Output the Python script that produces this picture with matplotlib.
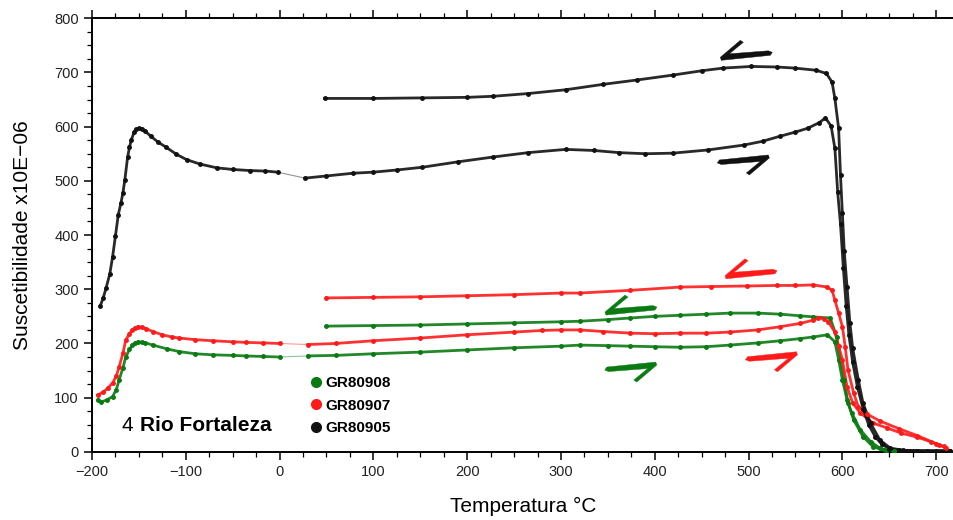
import numpy as np
import matplotlib
matplotlib.use('Agg')
import matplotlib.pyplot as plt
import matplotlib.transforms as mtransforms
from matplotlib.patches import Polygon
from matplotlib.lines import Line2D
from matplotlib.ticker import MultipleLocator

plt.rcParams['font.family'] = ['Liberation Sans', 'DejaVu Sans']

### dados (temperatura em C, suscetibilidade x10E-06)

# GR80905 (preto)
bk_low_t = [-191, -188, -185, -181, -178, -175, -172, -169, -167, -165, -162, -160, -158, -155,
            -153, -150, -147, -143, -137, -130, -121, -110, -99, -85, -67, -50, -32, -15, -2]
bk_low_v = [270, 284, 302, 328, 360, 398, 437, 460, 478, 501, 544, 562, 576, 590,
            595, 597, 596, 591, 582, 572, 562, 549, 539, 531, 524, 521, 519, 518, 516]
bk_heat_t = [27, 50, 78, 100, 125, 152, 190, 228, 265, 305, 335, 362, 390, 419, 457, 495, 515, 533,
             550, 563, 575, 582, 588, 592, 595, 598, 601, 604, 607, 611, 616, 622, 628, 635, 642,
             650, 660, 680, 700, 715]
bk_heat_v = [505, 509, 514, 516, 520, 525, 535, 544, 552, 558, 556, 552, 550, 551, 557, 566, 573, 582,
             590, 597, 607, 616, 601, 560, 479, 420, 340, 270, 215, 165, 120, 80, 50, 28, 14,
             6, 3, 2, 2, 2]
bk_cool_t = [48, 100, 152, 200, 228, 265, 305, 345, 381, 419, 450, 473, 503, 530, 549, 572, 583, 589,
             592, 596, 598, 600, 602, 605, 608, 611, 617, 622, 630, 640, 651, 665, 690, 715]
bk_cool_v = [652, 652, 653, 654, 656, 661, 668, 678, 686, 695, 703, 708, 711, 710, 708, 704, 698, 682,
             652, 597, 510, 440, 370, 304, 238, 191, 133, 90, 53, 22, 7, 3, 2, 2]

# GR80907 (vermelho)
rd_low_t = [-194, -188, -183, -178, -174, -171, -167, -164, -160, -157, -154, -151, -147, -142, -135,
            -125, -115, -107, -90, -71, -50, -36, -18, 0]
rd_low_v = [105, 110, 118, 127, 140, 157, 182, 206, 218, 225, 229, 231, 230, 227, 222,
            216, 212, 210, 207, 205, 203, 202, 201, 200]
rd_heat_t = [30, 60, 100, 150, 200, 250, 280, 300, 320, 345, 374, 400, 427, 455, 480, 510, 534, 555,
             569, 574, 580, 585, 592, 596, 600, 605, 611, 619, 633, 648, 662, 680, 694, 703, 708]
rd_heat_v = [198, 200, 205, 210, 216, 221, 224, 225, 225, 222, 219, 218, 219, 219, 221, 225, 231, 237,
             243, 247, 246, 240, 221, 195, 170, 120, 90, 72, 53, 44, 35, 27, 19, 13, 10]
rd_cool_t = [50, 100, 150, 200, 250, 300, 320, 374, 427, 460, 498, 530, 550, 569, 584, 589,
             592, 596, 600, 603, 606, 612, 617, 626, 640, 660, 680, 700, 710]
rd_cool_v = [284, 285, 286, 288, 290, 293, 293, 298, 304, 305, 306, 307, 307, 308, 304, 298,
             280, 256, 231, 194, 151, 109, 83, 70, 57, 43, 30, 15, 8]

# GR80908 (verde)
gr_low_t = [-194, -190, -184, -178, -174, -171, -167, -164, -160, -157, -154, -151, -147, -143, -135,
            -120, -107, -90, -71, -50, -36, -18, 0]
gr_low_v = [96, 92, 96, 102, 115, 133, 155, 175, 189, 197, 201, 203, 202, 201, 197,
            190, 185, 181, 179, 178, 177, 176, 175]
gr_heat_t = [30, 60, 100, 150, 200, 250, 300, 320, 350, 374, 400, 427, 455, 480, 510, 534, 555, 569, 584,
             592, 596, 600, 605, 610, 619, 630, 640, 648, 655]
gr_heat_v = [177, 178, 181, 184, 188, 192, 195, 197, 196, 195, 194, 193, 194, 197, 201, 205, 209, 212, 216,
             203, 170, 133, 96, 72, 41, 19, 7, 3, 2]
gr_cool_t = [50, 100, 150, 200, 250, 300, 320, 350, 374, 400, 427, 455, 480, 510, 534, 555, 569, 587,
             594, 598, 602, 606, 612, 622, 633, 645, 655]
gr_cool_v = [232, 233, 234, 236, 238, 240, 241, 244, 247, 250, 252, 254, 256, 256, 254, 251, 249, 247,
             212, 170, 133, 90, 59, 28, 9, 3, 2]

samples = ['GR80908', 'GR80907', 'GR80905']
colors = ['#0a7a12', '#ff1a1a', '#111111']

# posicoes das meias-setas (aquecimento / resfriamento)
arrow_cool = [(349, 256), (477, 323), (472, 726)]
arrow_heat = [(400, 162), (550, 181), (520, 544)]

### figura
fig = plt.figure(figsize=(9.54, 5.2), dpi=100)
ax = fig.add_axes([0.0964, 0.131, 0.9036, 0.834])
ax.set_xlim(-200, 719)
ax.set_ylim(0, 800)

curves = [
    (gr_low_t, gr_low_v, gr_heat_t, gr_heat_v, gr_cool_t, gr_cool_v),
    (rd_low_t, rd_low_v, rd_heat_t, rd_heat_v, rd_cool_t, rd_cool_v),
    (bk_low_t, bk_low_v, bk_heat_t, bk_heat_v, bk_cool_t, bk_cool_v),
]

for i, (lt, lv, ht, hv, ct, cv) in enumerate(curves):
    c = colors[i]
    # ligacao fina entre a curva de baixa temperatura e o aquecimento
    ax.plot([lt[-1], ht[0]], [lv[-1], hv[0]], color=c, lw=0.8, alpha=0.45, zorder=2)
    for t, v in [(lt, lv), (ht, hv), (ct, cv)]:
        ax.plot(t, v, color=c, lw=2.0, alpha=0.9, zorder=3, solid_joinstyle='round')
        ax.plot(t, v, ls='', marker='o', ms=2.5, color=c, zorder=4)

# meias-setas
arrow_shape = [(-1, -2), (48, 3), (50, 6), (46, 7.5), (7, 4.5), (21, 16), (18, 18), (-2, 1)]


def half_arrow(x, y, color, flip=False):
    s = -1 if flip else 1
    pts = [(s * px, s * py) for px, py in arrow_shape]
    tr = mtransforms.Affine2D().scale(fig.dpi / 100.0) + mtransforms.ScaledTranslation(x, y, ax.transData)
    ax.add_patch(Polygon(pts, closed=True, facecolor=color, edgecolor=color, lw=0.3,
                         transform=tr, zorder=5))


for i in range(3):
    half_arrow(arrow_cool[i][0], arrow_cool[i][1], colors[i])
    half_arrow(arrow_heat[i][0], arrow_heat[i][1], colors[i], flip=True)

# eixos
ax.spines['right'].set_visible(False)
for s in ['left', 'bottom', 'top']:
    ax.spines[s].set_linewidth(1.4)
ax.xaxis.set_major_locator(MultipleLocator(100))
ax.xaxis.set_minor_locator(MultipleLocator(25))
ax.yaxis.set_major_locator(MultipleLocator(100))
ax.yaxis.set_minor_locator(MultipleLocator(25))
ax.tick_params(which='both', direction='out', top=True, right=False, labelsize=10.5,
               labelcolor='#222222')
ax.tick_params(which='major', length=6, width=1.1)
ax.tick_params(which='minor', length=3.5, width=0.9)
ax.xaxis.set_major_formatter(plt.FuncFormatter(lambda v, p: f'{int(v)}'.replace('-', '\u2212')))

ax.set_xlabel('Temperatura \u00b0C', fontsize=15, labelpad=13)
ax.set_ylabel('Suscetibilidade x10E\u221206', fontsize=15, labelpad=16)

# legenda
handles = [Line2D([], [], ls='', marker='o', ms=7, color=colors[i], label=samples[i]) for i in range(3)]
ax.legend(handles=handles, loc='upper left', bbox_to_anchor=(0.2546, 0.1745), frameon=False,
          prop={'weight': 'bold', 'size': 11}, handlelength=0.6, handletextpad=0.3,
          labelspacing=0.55, borderpad=0, borderaxespad=0)

ax.text(0.0348, 0.060, '4', transform=ax.transAxes, fontsize=15, va='center', ha='left')
ax.text(0.0557, 0.060, 'Rio Fortaleza', transform=ax.transAxes, fontsize=15,
        fontweight='bold', va='center', ha='left')

fig.savefig('out.png', dpi=100)
